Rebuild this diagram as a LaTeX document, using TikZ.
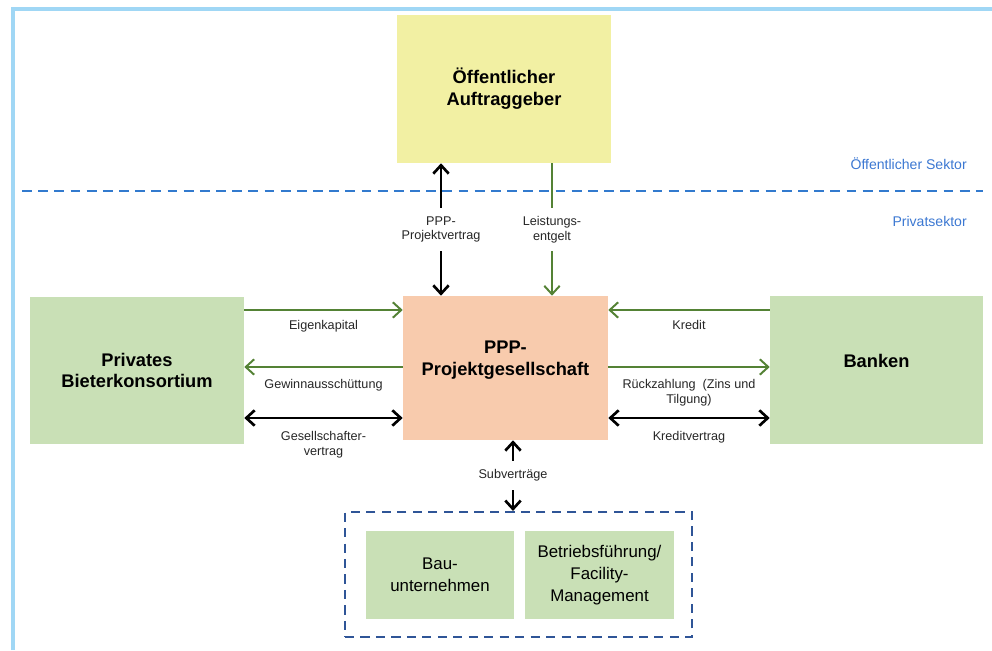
\documentclass[tikz,border=0pt]{standalone}
\usepackage{fontspec}
\setmainfont{Liberation Sans}
\usetikzlibrary{arrows.meta}

\definecolor{gelb}{RGB}{242,240,163}
\definecolor{orange}{RGB}{248,203,173}
\definecolor{gruen}{RGB}{201,224,182}
\definecolor{pfeilgruen}{RGB}{84,130,53}
\definecolor{linieblau}{RGB}{50,122,206}
\definecolor{textblau}{RGB}{60,120,210}
\definecolor{gruppeblau}{RGB}{47,85,151}
\definecolor{rahmenblau}{RGB}{160,215,245}
\definecolor{textgrau}{RGB}{38,38,38}

\begin{document}
\begin{tikzpicture}[
box/.style={inner sep=0pt,align=center,font=\bfseries\fontsize{13}{15.6}\selectfont},
firma/.style={inner sep=0pt,fill=gruen,minimum width=3.7cm,minimum height=2.2cm,align=center,font=\fontsize{12}{15.6}\selectfont},
lab/.style={align=center,text=textgrau,font=\fontsize{9}{10.6}\selectfont},
mitte/.style={lab,fill=white,inner ysep=6pt},
sektor/.style={inner sep=0pt,text=textblau,font=\fontsize{10}{12}\selectfont},
geld/.style={draw=pfeilgruen,line width=1.4pt,-{Straight Barb[length=6pt,width=11pt]}},
vertrag/.style={draw=black,line width=1.9pt,{Straight Barb[length=6pt,width=11pt]}-{Straight Barb[length=6pt,width=11pt]}}
]
\useasboundingbox (0,0) rectangle (24.8,16.25);
%Frame and sectors
\draw[rahmenblau,line width=2.5pt] (0.325,0) -- (0.325,16.025) -- (24.8,16.025);
\draw[linieblau,line width=1.6pt,dash pattern=on 7pt off 4.5pt] (0.55,11.475) -- (24.575,11.475);
\node[sektor,anchor=east] (oeffsek) at (24.175,12.15) {Öffentlicher Sektor};
\node[sektor,anchor=east] (privsek) at (24.175,10.725) {Privatsektor};
%Boxes
\node[box,fill=gelb,minimum width=5.35cm,minimum height=3.7cm] (auf) at (12.6,14.025) {Öffentlicher\\Auftraggeber};
\node[box,fill=orange,minimum width=5.125cm,minimum height=3.6cm,text depth=0.5cm] (ppp) at (12.6375,7.05) {PPP-\\Projektgesellschaft};
\node[box,fill=gruen,minimum width=5.35cm,minimum height=3.675cm] (priv) at (3.425,6.9875) {Privates\\Bieterkonsortium};
\node[box,fill=gruen,minimum width=5.325cm,minimum height=3.7cm,text depth=0.45cm] (bank) at (21.9125,7.0) {Banken};
\node[draw=gruppeblau,line width=1.5pt,dash pattern=on 6.5pt off 4.5pt,minimum width=8.675cm,minimum height=3.125cm] (grp) at (12.9625,1.8875) {};
\node[firma] (bau) at (11.0,1.875) {Bau-\\unternehmen};
\node[firma,minimum width=3.725cm] (betr) at (14.9875,1.875) {Betriebsführung/\\Facility-\\Management};
%Helper coordinates
\coordinate (vx) at (11.025,0);
\coordinate (lx) at (13.8,0);
\coordinate (sx) at (12.825,0);
\coordinate (r1) at (0,8.5);
\coordinate (r2) at (0,7.075);
\coordinate (r3) at (0,5.8);
%Vertical connections
\draw[vertrag] (auf.south -| vx) -- (ppp.north -| vx) node[mitte,midway] (vlab) {PPP-\\Projektvertrag};
\draw[geld] (auf.south -| lx) -- (ppp.north -| lx) node[mitte,midway] (llab) {Leistungs-\\entgelt};
\draw[vertrag] (ppp.south -| sx) -- (grp.north -| sx) node[mitte,midway] (slab) {Subverträge};
%Left connections
\draw[geld] (priv.east |- r1) -- (ppp.west |- r1) node[lab,midway,below=3pt] (eklab) {Eigenkapital};
\draw[geld] (ppp.west |- r2) -- (priv.east |- r2) node[lab,midway,below=5pt] (gwlab) {Gewinnausschüttung};
\draw[vertrag] (priv.east |- r3) -- (ppp.west |- r3) node[lab,midway,below=5pt] (gvlab) {Gesellschafter-\\vertrag};
%Right connections
\draw[geld] (bank.west |- r1) -- (ppp.east |- r1) node[lab,midway,below=3pt] (krlab) {Kredit};
\draw[geld] (ppp.east |- r2) -- (bank.west |- r2) node[lab,midway,below=5pt] (rzlab) {Rückzahlung\ \ (Zins und\\Tilgung)};
\draw[vertrag] (ppp.east |- r3) -- (bank.west |- r3) node[lab,midway,below=5pt] (kvlab) {Kreditvertrag};
\end{tikzpicture}
\end{document}
